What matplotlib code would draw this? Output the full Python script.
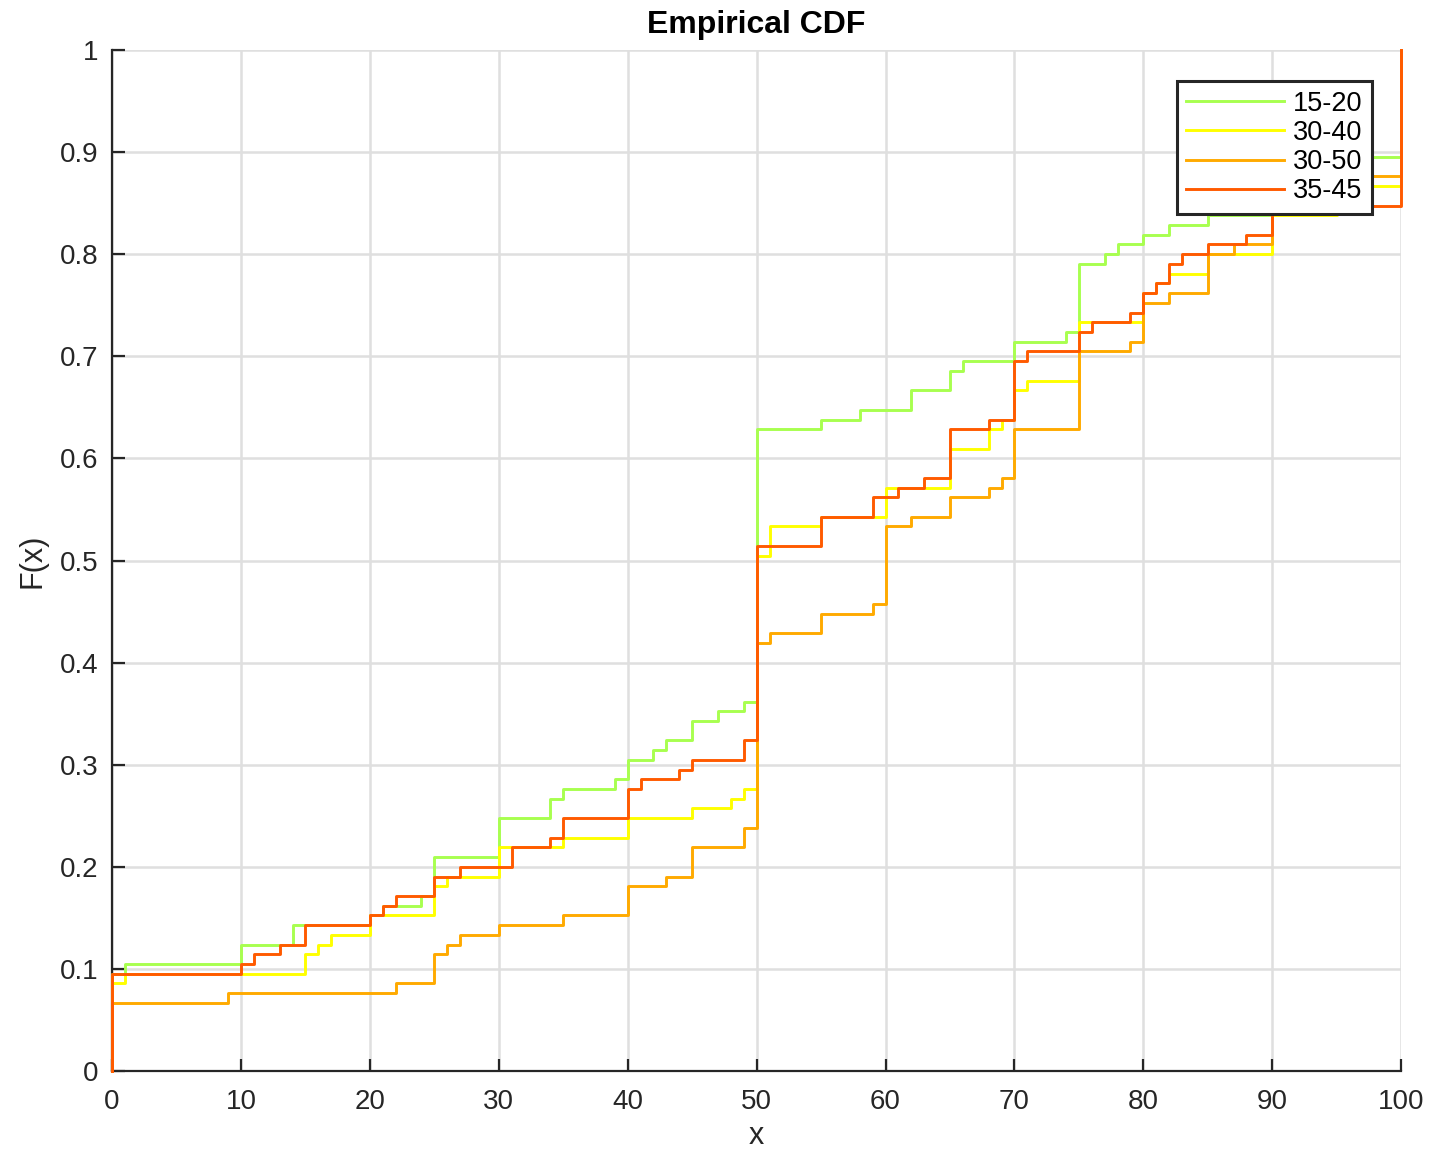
import numpy as np
import matplotlib
matplotlib.use("Agg")
import matplotlib.pyplot as plt

plt.rcParams['font.family'] = ['Liberation Sans', 'DejaVu Sans']

# ECDF data: step locations and cumulative counts (out of n_obs)
n_obs = 105

g_x = [0, 1, 10, 14, 20, 21, 24, 25, 30, 34, 35, 39, 40, 42, 43, 45, 47, 49, 50,
       55, 58, 62, 65, 66, 70, 74, 75, 77, 78, 80, 82, 85, 90, 95, 100]
g_n = [10, 11, 13, 15, 16, 17, 18, 22, 26, 28, 29, 30, 32, 33, 34, 36, 37, 38, 66,
       67, 68, 70, 72, 73, 75, 76, 83, 84, 85, 86, 87, 88, 91, 94, 105]

y_x = [0, 1, 15, 16, 17, 20, 25, 26, 30, 35, 40, 45, 48, 49, 50, 51, 55, 60, 65,
       68, 69, 70, 71, 75, 80, 81, 82, 85, 90, 95, 100]
y_n = [9, 10, 12, 13, 14, 16, 19, 20, 23, 24, 26, 27, 28, 29, 53, 56, 57, 60, 64,
       66, 67, 70, 71, 77, 80, 81, 82, 84, 88, 91, 105]

o_x = [0, 9, 22, 25, 26, 27, 30, 35, 40, 43, 45, 49, 50, 51, 55, 59, 60, 62, 65,
       68, 69, 70, 75, 79, 80, 82, 85, 87, 90, 100]
o_n = [7, 8, 9, 12, 13, 14, 15, 16, 19, 20, 23, 25, 44, 45, 47, 48, 56, 57, 59,
       60, 61, 66, 74, 75, 79, 80, 84, 85, 92, 105]

r_x = [0, 10, 11, 13, 15, 20, 21, 22, 25, 27, 31, 34, 35, 40, 41, 44, 45, 49, 50,
       55, 59, 61, 63, 65, 68, 70, 71, 75, 76, 79, 80, 81, 82, 83, 85, 88, 90, 100]
r_n = [10, 11, 12, 13, 15, 16, 17, 18, 20, 21, 23, 24, 26, 29, 30, 31, 32, 34, 54,
       57, 59, 60, 61, 66, 67, 73, 74, 76, 77, 78, 80, 81, 83, 84, 85, 86, 89, 105]

labels = ['15-20', '30-40', '30-50', '35-45']
colors = ['#A8FF4F', '#FFFF00', '#FFAA00', '#FF5A00']
series = [(g_x, g_n), (y_x, y_n), (o_x, o_n), (r_x, r_n)]

fig = plt.figure(figsize=(14.46, 11.5), dpi=100)
ax = fig.add_axes([0.0775, 0.0687, 0.8915, 0.8878])

for (xs, ns), lab, col in zip(series, labels, colors):
    xs = np.asarray(xs, dtype=float)
    F = np.asarray(ns, dtype=float) / n_obs
    ax.step(np.r_[xs[0], xs], np.r_[0, F], where='post', color=col, lw=2.1,
            label=lab, clip_on=False, zorder=3)

ax.set_xlim(0, 100)
ax.set_ylim(0, 1)
ax.set_xticks(np.arange(0, 101, 10))
ax.set_yticks(np.arange(0, 1.01, 0.1))
ax.set_yticklabels(['0'] + ['%.1f' % v for v in np.arange(0.1, 0.95, 0.1)] + ['1'])

tc = '#262626'
ax.grid(True, color='#DFDFDF', lw=1.8)
ax.set_axisbelow(True)
for s in ['top', 'right']:
    ax.spines[s].set_visible(False)
for s in ['left', 'bottom']:
    ax.spines[s].set_color(tc)
    ax.spines[s].set_linewidth(1.6)
ax.tick_params(direction='in', length=9, width=1.6, colors=tc, labelsize=20,
               labelcolor=tc)
ax.tick_params(axis='x', pad=13)
ax.tick_params(axis='y', pad=10)

ax.set_title('Empirical CDF', fontsize=23, fontweight='bold', pad=12, color='k')
ax.set_xlabel('x', fontsize=22, color=tc, labelpad=4)
ax.set_ylabel('F(x)', fontsize=22, color=tc, labelpad=9)

leg = ax.legend(loc='upper right', bbox_to_anchor=(0.9775, 0.9696),
                borderaxespad=0, fontsize=19.5, handlelength=3.6,
                labelspacing=0.12, handletextpad=0.35, borderpad=0.35,
                fancybox=False, framealpha=1)
leg.get_frame().set_edgecolor(tc)
leg.get_frame().set_linewidth(2.2)
leg.set_zorder(5)

fig.savefig('out.png', dpi=100)
